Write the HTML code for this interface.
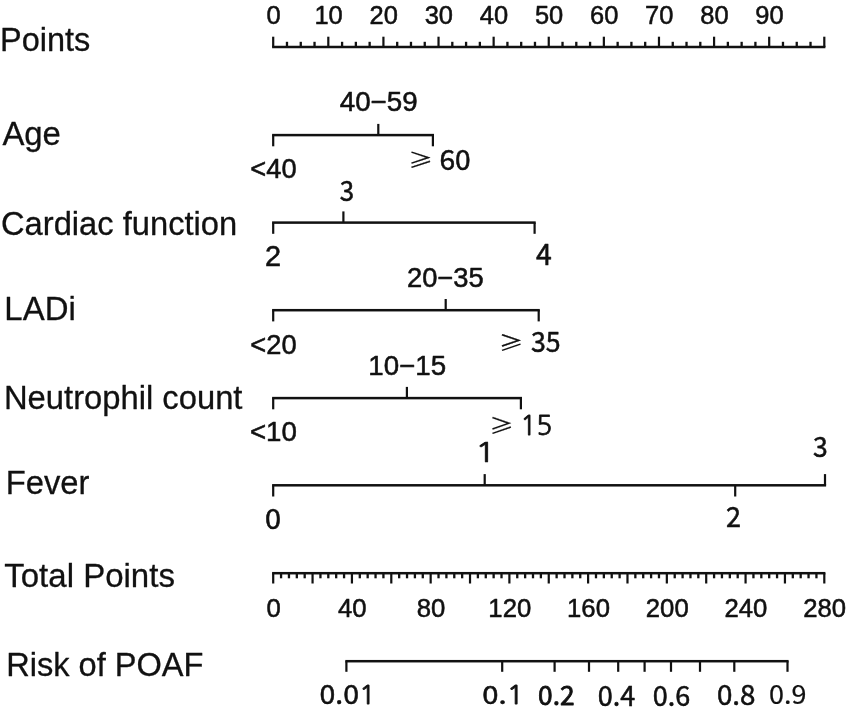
<!DOCTYPE html>
<html><head><meta charset="utf-8"><title>Nomogram</title>
<style>html,body{margin:0;padding:0;background:#fff}svg{display:block}text{white-space:pre}</style>
</head><body>
<svg width="850" height="714" viewBox="0 0 850 714">
<rect width="850" height="714" fill="#ffffff"/>
<g fill="#111111">
<rect x="272.10" y="45.75" width="553.30" height="2.5"/>
<rect x="272.10" y="36.70" width="2.2" height="10.30"/>
<rect x="285.83" y="41.80" width="2.3" height="5.20"/>
<rect x="299.61" y="41.80" width="2.3" height="5.20"/>
<rect x="313.38" y="41.80" width="2.3" height="5.20"/>
<rect x="327.21" y="36.70" width="2.2" height="10.30"/>
<rect x="340.94" y="41.80" width="2.3" height="5.20"/>
<rect x="354.71" y="41.80" width="2.3" height="5.20"/>
<rect x="368.49" y="41.80" width="2.3" height="5.20"/>
<rect x="382.32" y="36.70" width="2.2" height="10.30"/>
<rect x="396.05" y="41.80" width="2.3" height="5.20"/>
<rect x="409.82" y="41.80" width="2.3" height="5.20"/>
<rect x="423.60" y="41.80" width="2.3" height="5.20"/>
<rect x="437.43" y="36.70" width="2.2" height="10.30"/>
<rect x="451.16" y="41.80" width="2.3" height="5.20"/>
<rect x="464.93" y="41.80" width="2.3" height="5.20"/>
<rect x="478.71" y="41.80" width="2.3" height="5.20"/>
<rect x="492.54" y="36.70" width="2.2" height="10.30"/>
<rect x="506.27" y="41.80" width="2.3" height="5.20"/>
<rect x="520.04" y="41.80" width="2.3" height="5.20"/>
<rect x="533.82" y="41.80" width="2.3" height="5.20"/>
<rect x="547.65" y="36.70" width="2.2" height="10.30"/>
<rect x="561.38" y="41.80" width="2.3" height="5.20"/>
<rect x="575.15" y="41.80" width="2.3" height="5.20"/>
<rect x="588.93" y="41.80" width="2.3" height="5.20"/>
<rect x="602.76" y="36.70" width="2.2" height="10.30"/>
<rect x="616.49" y="41.80" width="2.3" height="5.20"/>
<rect x="630.26" y="41.80" width="2.3" height="5.20"/>
<rect x="644.04" y="41.80" width="2.3" height="5.20"/>
<rect x="657.87" y="36.70" width="2.2" height="10.30"/>
<rect x="671.60" y="41.80" width="2.3" height="5.20"/>
<rect x="685.37" y="41.80" width="2.3" height="5.20"/>
<rect x="699.15" y="41.80" width="2.3" height="5.20"/>
<rect x="712.98" y="36.70" width="2.2" height="10.30"/>
<rect x="726.71" y="41.80" width="2.3" height="5.20"/>
<rect x="740.49" y="41.80" width="2.3" height="5.20"/>
<rect x="754.26" y="41.80" width="2.3" height="5.20"/>
<rect x="768.09" y="36.70" width="2.2" height="10.30"/>
<rect x="781.82" y="41.80" width="2.3" height="5.20"/>
<rect x="795.59" y="41.80" width="2.3" height="5.20"/>
<rect x="809.37" y="41.80" width="2.3" height="5.20"/>
<rect x="823.20" y="36.70" width="2.2" height="10.30"/>
<rect x="272.10" y="133.85" width="161.90" height="2.5"/>
<rect x="272.10" y="135.10" width="2.2" height="11.20"/>
<rect x="431.80" y="135.10" width="2.2" height="11.20"/>
<rect x="377.20" y="123.90" width="2.2" height="11.20"/>
<rect x="272.10" y="221.35" width="263.60" height="2.5"/>
<rect x="272.10" y="222.60" width="2.2" height="11.20"/>
<rect x="533.50" y="222.60" width="2.2" height="11.20"/>
<rect x="342.30" y="211.40" width="2.2" height="11.20"/>
<rect x="272.10" y="308.95" width="267.70" height="2.5"/>
<rect x="272.10" y="310.20" width="2.2" height="11.20"/>
<rect x="537.60" y="310.20" width="2.2" height="11.20"/>
<rect x="444.60" y="299.00" width="2.2" height="11.20"/>
<rect x="272.10" y="396.85" width="249.90" height="2.5"/>
<rect x="272.10" y="398.10" width="2.2" height="11.20"/>
<rect x="519.80" y="398.10" width="2.2" height="11.20"/>
<rect x="405.80" y="386.90" width="2.2" height="11.20"/>
<rect x="272.10" y="484.05" width="554.00" height="2.5"/>
<rect x="272.10" y="485.30" width="2.2" height="11.20"/>
<rect x="823.90" y="474.10" width="2.2" height="11.20"/>
<rect x="483.60" y="474.10" width="2.2" height="11.20"/>
<rect x="734.10" y="485.30" width="2.2" height="11.20"/>
<rect x="272.10" y="571.95" width="553.30" height="2.5"/>
<rect x="272.10" y="573.20" width="2.2" height="10.30"/>
<rect x="279.92" y="573.20" width="2.3" height="5.10"/>
<rect x="287.80" y="573.20" width="2.3" height="5.10"/>
<rect x="295.67" y="573.20" width="2.3" height="5.10"/>
<rect x="303.54" y="573.20" width="2.3" height="5.10"/>
<rect x="311.46" y="573.20" width="2.2" height="10.30"/>
<rect x="319.29" y="573.20" width="2.3" height="5.10"/>
<rect x="327.16" y="573.20" width="2.3" height="5.10"/>
<rect x="335.03" y="573.20" width="2.3" height="5.10"/>
<rect x="342.91" y="573.20" width="2.3" height="5.10"/>
<rect x="350.83" y="573.20" width="2.2" height="10.30"/>
<rect x="358.65" y="573.20" width="2.3" height="5.10"/>
<rect x="366.52" y="573.20" width="2.3" height="5.10"/>
<rect x="374.40" y="573.20" width="2.3" height="5.10"/>
<rect x="382.27" y="573.20" width="2.3" height="5.10"/>
<rect x="390.19" y="573.20" width="2.2" height="10.30"/>
<rect x="398.02" y="573.20" width="2.3" height="5.10"/>
<rect x="405.89" y="573.20" width="2.3" height="5.10"/>
<rect x="413.76" y="573.20" width="2.3" height="5.10"/>
<rect x="421.63" y="573.20" width="2.3" height="5.10"/>
<rect x="429.56" y="573.20" width="2.2" height="10.30"/>
<rect x="437.38" y="573.20" width="2.3" height="5.10"/>
<rect x="445.25" y="573.20" width="2.3" height="5.10"/>
<rect x="453.13" y="573.20" width="2.3" height="5.10"/>
<rect x="461.00" y="573.20" width="2.3" height="5.10"/>
<rect x="468.92" y="573.20" width="2.2" height="10.30"/>
<rect x="476.74" y="573.20" width="2.3" height="5.10"/>
<rect x="484.62" y="573.20" width="2.3" height="5.10"/>
<rect x="492.49" y="573.20" width="2.3" height="5.10"/>
<rect x="500.36" y="573.20" width="2.3" height="5.10"/>
<rect x="508.29" y="573.20" width="2.2" height="10.30"/>
<rect x="516.11" y="573.20" width="2.3" height="5.10"/>
<rect x="523.98" y="573.20" width="2.3" height="5.10"/>
<rect x="531.85" y="573.20" width="2.3" height="5.10"/>
<rect x="539.73" y="573.20" width="2.3" height="5.10"/>
<rect x="547.65" y="573.20" width="2.2" height="10.30"/>
<rect x="555.47" y="573.20" width="2.3" height="5.10"/>
<rect x="563.35" y="573.20" width="2.3" height="5.10"/>
<rect x="571.22" y="573.20" width="2.3" height="5.10"/>
<rect x="579.09" y="573.20" width="2.3" height="5.10"/>
<rect x="587.01" y="573.20" width="2.2" height="10.30"/>
<rect x="594.84" y="573.20" width="2.3" height="5.10"/>
<rect x="602.71" y="573.20" width="2.3" height="5.10"/>
<rect x="610.58" y="573.20" width="2.3" height="5.10"/>
<rect x="618.46" y="573.20" width="2.3" height="5.10"/>
<rect x="626.38" y="573.20" width="2.2" height="10.30"/>
<rect x="634.20" y="573.20" width="2.3" height="5.10"/>
<rect x="642.07" y="573.20" width="2.3" height="5.10"/>
<rect x="649.95" y="573.20" width="2.3" height="5.10"/>
<rect x="657.82" y="573.20" width="2.3" height="5.10"/>
<rect x="665.74" y="573.20" width="2.2" height="10.30"/>
<rect x="673.57" y="573.20" width="2.3" height="5.10"/>
<rect x="681.44" y="573.20" width="2.3" height="5.10"/>
<rect x="689.31" y="573.20" width="2.3" height="5.10"/>
<rect x="697.18" y="573.20" width="2.3" height="5.10"/>
<rect x="705.11" y="573.20" width="2.2" height="10.30"/>
<rect x="712.93" y="573.20" width="2.3" height="5.10"/>
<rect x="720.80" y="573.20" width="2.3" height="5.10"/>
<rect x="728.68" y="573.20" width="2.3" height="5.10"/>
<rect x="736.55" y="573.20" width="2.3" height="5.10"/>
<rect x="744.47" y="573.20" width="2.2" height="10.30"/>
<rect x="752.29" y="573.20" width="2.3" height="5.10"/>
<rect x="760.17" y="573.20" width="2.3" height="5.10"/>
<rect x="768.04" y="573.20" width="2.3" height="5.10"/>
<rect x="775.91" y="573.20" width="2.3" height="5.10"/>
<rect x="783.84" y="573.20" width="2.2" height="10.30"/>
<rect x="791.66" y="573.20" width="2.3" height="5.10"/>
<rect x="799.53" y="573.20" width="2.3" height="5.10"/>
<rect x="807.40" y="573.20" width="2.3" height="5.10"/>
<rect x="815.28" y="573.20" width="2.3" height="5.10"/>
<rect x="823.20" y="573.20" width="2.2" height="10.30"/>
<rect x="345.30" y="659.95" width="443.30" height="2.5"/>
<rect x="345.30" y="661.20" width="2.2" height="10.60"/>
<rect x="501.10" y="661.20" width="2.2" height="10.60"/>
<rect x="553.50" y="661.20" width="2.2" height="10.60"/>
<rect x="587.90" y="661.20" width="2.2" height="10.60"/>
<rect x="617.10" y="661.20" width="2.2" height="10.60"/>
<rect x="643.50" y="661.20" width="2.2" height="10.60"/>
<rect x="669.90" y="661.20" width="2.2" height="10.60"/>
<rect x="698.90" y="661.20" width="2.2" height="10.60"/>
<rect x="733.20" y="661.20" width="2.2" height="10.60"/>
<rect x="786.40" y="661.20" width="2.2" height="10.60"/>
</g>
<g stroke="#111111" stroke-width="0.55" stroke-linejoin="round">
<text x="0.10" y="50.80" font-size="32.48" font-family='"Liberation Sans", sans-serif' fill="#111111" stroke-width="0.3">Points</text>
<text x="2.40" y="145.30" font-size="32.87" font-family='"Liberation Sans", sans-serif' fill="#111111" stroke-width="0.3">Age</text>
<text x="0.97" y="234.60" font-size="32.70" font-family='"Liberation Sans", sans-serif' fill="#111111" stroke-width="0.3">Cardiac function</text>
<text x="4.37" y="320.20" font-size="32.93" font-family='"Liberation Sans", sans-serif' fill="#111111" stroke-width="0.3">LADi</text>
<text x="3.98" y="409.20" font-size="32.76" font-family='"Liberation Sans", sans-serif' fill="#111111" stroke-width="0.3">Neutrophil count</text>
<text x="5.78" y="494.00" font-size="32.76" font-family='"Liberation Sans", sans-serif' fill="#111111" stroke-width="0.3">Fever</text>
<text x="4.24" y="586.60" font-size="33.03" font-family='"Liberation Sans", sans-serif' fill="#111111" stroke-width="0.3">Total Points</text>
<text x="6.19" y="676.00" font-size="32.58" font-family='"Liberation Sans", sans-serif' fill="#111111" stroke-width="0.3">Risk of POAF</text>
<text transform="translate(273.50 23.90) scale(0.965 1)" text-anchor="middle" font-size="26.4" font-family='"Liberation Sans", sans-serif' fill="#111111">0</text>
<text transform="translate(328.61 23.90) scale(0.965 1)" text-anchor="middle" font-size="26.4" font-family='"Liberation Sans", sans-serif' fill="#111111">10</text>
<text transform="translate(383.72 23.90) scale(0.965 1)" text-anchor="middle" font-size="26.4" font-family='"Liberation Sans", sans-serif' fill="#111111">20</text>
<text transform="translate(438.83 23.90) scale(0.965 1)" text-anchor="middle" font-size="26.4" font-family='"Liberation Sans", sans-serif' fill="#111111">30</text>
<text transform="translate(493.94 23.90) scale(0.965 1)" text-anchor="middle" font-size="26.4" font-family='"Liberation Sans", sans-serif' fill="#111111">40</text>
<text transform="translate(549.05 23.90) scale(0.965 1)" text-anchor="middle" font-size="26.4" font-family='"Liberation Sans", sans-serif' fill="#111111">50</text>
<text transform="translate(604.16 23.90) scale(0.965 1)" text-anchor="middle" font-size="26.4" font-family='"Liberation Sans", sans-serif' fill="#111111">60</text>
<text transform="translate(659.27 23.90) scale(0.965 1)" text-anchor="middle" font-size="26.4" font-family='"Liberation Sans", sans-serif' fill="#111111">70</text>
<text transform="translate(714.38 23.90) scale(0.965 1)" text-anchor="middle" font-size="26.4" font-family='"Liberation Sans", sans-serif' fill="#111111">80</text>
<text transform="translate(769.49 23.90) scale(0.965 1)" text-anchor="middle" font-size="26.4" font-family='"Liberation Sans", sans-serif' fill="#111111">90</text>
<text transform="translate(273.60 616.60) scale(0.97 1)" text-anchor="middle" font-size="26.5" font-family='"Liberation Sans", sans-serif' fill="#111111">0</text>
<text transform="translate(352.33 616.60) scale(0.97 1)" text-anchor="middle" font-size="26.5" font-family='"Liberation Sans", sans-serif' fill="#111111">40</text>
<text transform="translate(431.06 616.60) scale(0.97 1)" text-anchor="middle" font-size="26.5" font-family='"Liberation Sans", sans-serif' fill="#111111">80</text>
<text transform="translate(509.79 616.60) scale(0.97 1)" text-anchor="middle" font-size="26.5" font-family='"Liberation Sans", sans-serif' fill="#111111">120</text>
<text transform="translate(588.51 616.60) scale(0.97 1)" text-anchor="middle" font-size="26.5" font-family='"Liberation Sans", sans-serif' fill="#111111">160</text>
<text transform="translate(667.24 616.60) scale(0.97 1)" text-anchor="middle" font-size="26.5" font-family='"Liberation Sans", sans-serif' fill="#111111">200</text>
<text transform="translate(745.97 616.60) scale(0.97 1)" text-anchor="middle" font-size="26.5" font-family='"Liberation Sans", sans-serif' fill="#111111">240</text>
<text transform="translate(824.70 616.60) scale(0.97 1)" text-anchor="middle" font-size="26.5" font-family='"Liberation Sans", sans-serif' fill="#111111">280</text>
<text transform="translate(339.75 111.42) scale(0.994 1.000)" font-size="27.89" font-family='"Liberation Sans", sans-serif' fill="#111111">40−59</text>
<text transform="translate(250.31 178.32) scale(0.973 1.000)" font-size="28.03" font-family='"Liberation Sans", sans-serif' fill="#111111">&lt;40</text>
<text transform="translate(408.16 168.39) scale(1.210 1.000)" font-size="20.24" font-family='"Noto Sans CJK SC", sans-serif' fill="#111111" stroke-width="0.2">≥</text>
<text transform="translate(439.39 170.12) scale(1.017 1.000)" font-size="27.70" font-family='"Noto Sans CJK SC", sans-serif' fill="#111111">60</text>
<text transform="translate(339.68 201.43) scale(0.942 1.000)" font-size="27.43" font-family='"Noto Sans CJK SC", sans-serif' fill="#111111">3</text>
<text transform="translate(265.05 266.40) scale(1.007 1.000)" font-size="28.71" font-family='"Liberation Sans", sans-serif' fill="#111111">2</text>
<text transform="translate(535.93 265.00) scale(0.966 1.000)" font-size="29.44" font-family='"Noto Sans CJK SC", sans-serif' fill="#111111">4</text>
<text transform="translate(406.93 286.72) scale(0.981 1.000)" font-size="27.89" font-family='"Liberation Sans", sans-serif' fill="#111111">20−35</text>
<text transform="translate(250.31 353.72) scale(0.978 1.000)" font-size="27.89" font-family='"Liberation Sans", sans-serif' fill="#111111">&lt;20</text>
<text transform="translate(498.66 350.68) scale(1.181 1.000)" font-size="20.73" font-family='"Noto Sans CJK SC", sans-serif' fill="#111111" stroke-width="0.2">≥</text>
<text transform="translate(530.97 352.42) scale(0.950 1.000)" font-size="28.11" font-family='"Noto Sans CJK SC", sans-serif' fill="#111111">35</text>
<text transform="translate(368.28 374.94) scale(1.000 1.000)" font-size="27.70" font-family='"Liberation Sans", sans-serif' fill="#111111">10−15</text>
<text transform="translate(249.95 441.34) scale(1.000 1.000)" font-size="27.70" font-family='"Liberation Sans", sans-serif' fill="#111111">&lt;10</text>
<text transform="translate(489.28 433.47) scale(1.161 1.000)" font-size="20.98" font-family='"Noto Sans CJK SC", sans-serif' fill="#111111" stroke-width="0.2">≥</text>
<text transform="translate(520.17 435.23) scale(0.981 1.000)" font-size="27.14" font-family='"NanumGothic", sans-serif' fill="#111111" stroke-width="0.75">15</text>
<text transform="translate(474.89 461.80) scale(1.292 1.000)" font-size="26.58" font-family='"NanumGothic", sans-serif' fill="#111111" stroke-width="0.7">1</text>
<text transform="translate(812.97 457.02) scale(0.960 1.000)" font-size="27.57" font-family='"Noto Sans CJK SC", sans-serif' fill="#111111">3</text>
<text transform="translate(265.05 529.13) scale(1.064 1.000)" font-size="27.16" font-family='"Noto Sans CJK SC", sans-serif' fill="#111111">0</text>
<text transform="translate(726.02 527.30) scale(0.953 1.000)" font-size="28.36" font-family='"Noto Sans CJK SC", sans-serif' fill="#111111">2</text>
<text transform="translate(319.48 704.23) scale(1.058 1)" font-size="26.89" font-family='"Noto Sans CJK SC", sans-serif' fill="#111111">0.0<tspan font-family='"NanumGothic", sans-serif' font-size="25.83" stroke-width="0.8">1</tspan></text>
<text transform="translate(482.34 703.65) scale(1.151 1)" font-size="25.41" font-family='"Noto Sans CJK SC", sans-serif' fill="#111111">0.<tspan font-family='"NanumGothic", sans-serif' font-size="24.40" stroke-width="0.8">1</tspan></text>
<text transform="translate(538.09 704.94) scale(1.003 1.000)" font-size="26.22" font-family='"Noto Sans CJK SC", sans-serif' fill="#111111" stroke-width="0.8">0.2</text>
<text transform="translate(597.75 706.42) scale(0.967 1.000)" font-size="27.97" font-family='"Noto Sans CJK SC", sans-serif' fill="#111111">0.4</text>
<text transform="translate(652.75 705.93) scale(0.989 1.000)" font-size="27.30" font-family='"Noto Sans CJK SC", sans-serif' fill="#111111">0.6</text>
<text transform="translate(716.91 704.53) scale(1.022 1.000)" font-size="27.16" font-family='"Noto Sans CJK SC", sans-serif' fill="#111111">0.8</text>
<text transform="translate(769.05 703.84) scale(1.051 1.000)" font-size="25.68" font-family='"Noto Sans CJK SC", sans-serif' fill="#111111" stroke-width="0.25">0.9</text>
</g>
</svg>
</body></html>
